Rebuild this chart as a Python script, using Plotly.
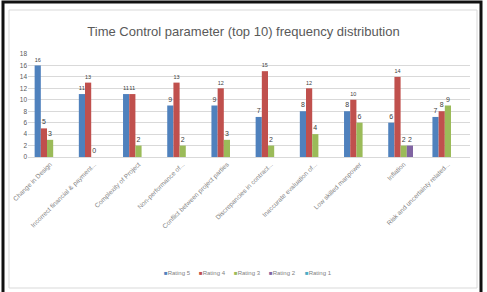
import plotly.graph_objects as go

categories = [
    "Change in Design",
    "Incorrect financial & payment...",
    "Complexity of Project",
    "Non-performance of...",
    "Conflict between project parties",
    "Discrepancies in contract...",
    "Inaccurate evaluation of...",
    "Low skilled manpower",
    "Inflation",
    "Risk and uncertainty related...",
]
rating5 = [16, 11, 11, 9, 9, 7, 8, 8, 6, 7]
rating4 = [5, 13, 11, 13, 12, 15, 12, 10, 14, 8]
rating3 = [3, 0, 2, 2, 3, 2, 4, 6, 2, 9]
rating2 = [None, None, None, None, None, None, None, None, 2, None]
rating1 = [None] * 10
series_names = ["Rating 5", "Rating 4", "Rating 3", "Rating 2", "Rating 1"]
series_colors = ["#4F81BD", "#C0504D", "#9BBB59", "#8064A2", "#4BACC6"]
y_ticks = [0, 2, 4, 6, 8, 10, 12, 14, 16, 18]

W, H = 487, 292
L, R, T, B = 28, 17, 54, 135
pw = W - L - R
ph = H - T - B

def px(x):
    return (x - L) / pw

def py(y):
    return (H - B - y) / ph

FONT = "Liberation Sans, sans-serif"

fig = go.Figure()
for name, vals, col in zip(series_names, [rating5, rating4, rating3, rating2, rating1], series_colors):
    yv = [v if v is not None else 0 for v in vals]
    txt = [str(v) if v is not None else "" for v in vals]
    fig.add_trace(go.Bar(
        x=categories, y=yv, name=name, marker_color=col, marker_line_width=0,
        text=txt, textposition="outside", cliponaxis=False,
        textfont=dict(size=7, color="#404040", family=FONT),
        showlegend=False,
    ))

# legend drawn as text annotations (compact, Excel-like)
legend_x = [177, 212, 247, 282, 318]
annotations = []
for name, col, lx in zip(series_names, series_colors, legend_x):
    annotations.append(dict(
        xref="paper", yref="paper", x=px(lx), y=py(273), xanchor="center", yanchor="middle",
        showarrow=False,
        text=f"<span style='color:{col}'>■</span>{name}",
        font=dict(size=6, color="#7f7f7f", family=FONT),
    ))

fig.update_layout(
    width=W, height=H,
    margin=dict(l=L, r=R, t=T, b=B),
    paper_bgcolor="white", plot_bgcolor="white",
    barmode="group", bargap=0.3, bargroupgap=0,
    title=dict(text="Time Control parameter (top 10) frequency distribution",
               x=0.5, xanchor="center", y=1 - 31 / H, yanchor="middle",
               font=dict(size=13, color="#595959", family=FONT)),
    font=dict(family=FONT, color="#595959"),
    showlegend=False,
    annotations=annotations,
    xaxis=dict(tickangle=-45, tickfont=dict(size=6.5, color="#7f7f7f", family=FONT),
               showline=True, linecolor="#d9d9d9", linewidth=1, ticks="",
               showgrid=False, automargin=False),
    yaxis=dict(range=[0, 18], tickvals=y_ticks, tickfont=dict(size=6.5, color="#595959", family=FONT),
               showgrid=True, gridcolor="#d9d9d9", gridwidth=1, zeroline=False,
               showline=False, ticks="", automargin=False),
    shapes=[
        dict(type="rect", xref="paper", yref="paper", x0=px(9), x1=px(477), y0=py(288), y1=py(10),
             line=dict(color="#d9d9d9", width=1), layer="below"),
        dict(type="rect", xref="paper", yref="paper", x0=px(3), x1=px(481), y0=py(310), y1=py(2),
             line=dict(color="#111111", width=3), layer="above"),
    ],
)

fig.write_html("out.html")
